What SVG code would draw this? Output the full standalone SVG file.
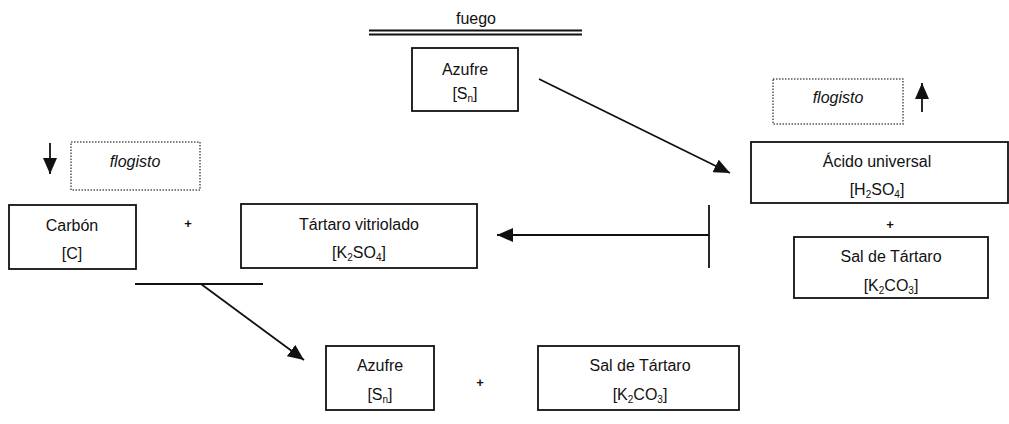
<svg xmlns="http://www.w3.org/2000/svg" width="1009" height="424" viewBox="0 0 1009 424">
<style>
  text { font-family: "Liberation Sans", Arial, sans-serif; font-size: 16px; fill: #111; text-anchor: middle; }
  .box { fill: #fff; stroke: #111; stroke-width: 1.8; }
  .dot { fill: #fff; stroke: #555; stroke-width: 1.5; stroke-dasharray: 1.5 1.5; }
  .it { font-style: italic; }
  .plus { font-size: 13px; font-weight: bold; }
  .sub { font-size: 10px; }
  .ln { stroke: #111; stroke-width: 1.8; fill: none; }
</style>
<defs>
  <marker id="ah" markerUnits="userSpaceOnUse" markerWidth="18" markerHeight="14" refX="16" refY="7" orient="auto">
    <path d="M0,0 L16,7 L0,14 Z" fill="#111"/>
  </marker>
</defs>
<rect width="1009" height="424" fill="#fff"/>

<g id="fuego">
  <text x="476" y="24" font-size="15">fuego</text>
  <line x1="369" y1="30.5" x2="582" y2="30.5" class="ln" stroke-width="1.6"/>
  <line x1="369" y1="34.5" x2="582" y2="34.5" class="ln" stroke-width="1.6"/>
</g>

<g id="azufre-top">
  <rect class="box" x="412" y="48" width="106" height="63"/>
  <text x="465" y="75">Azufre</text>
  <text x="465" y="99">[S<tspan class="sub" dy="3">n</tspan><tspan dy="-3">]</tspan></text>
</g>

<g id="flogisto-right">
  <rect class="dot" x="773" y="79" width="130" height="45"/>
  <text class="it" x="838" y="103">flogisto</text>
</g>

<g id="acido">
  <rect class="box" x="751" y="142" width="257" height="61"/>
  <text x="877" y="167">Ácido universal</text>
  <text x="877" y="195">[H<tspan class="sub" dy="3">2</tspan><tspan dy="-3">SO</tspan><tspan class="sub" dy="3">4</tspan><tspan dy="-3">]</tspan></text>
</g>

<g id="plus-right"><text class="plus" x="890" y="229">+</text></g>

<g id="sal-right">
  <rect class="box" x="794" y="237" width="194" height="61"/>
  <text x="891" y="262">Sal de Tártaro</text>
  <text x="891" y="291">[K<tspan class="sub" dy="3">2</tspan><tspan dy="-3">CO</tspan><tspan class="sub" dy="3">3</tspan><tspan dy="-3">]</tspan></text>
</g>

<g id="flogisto-left">
  <rect class="dot" x="71" y="142" width="129" height="48"/>
  <text class="it" x="135" y="167">flogisto</text>
</g>

<g id="carbon">
  <rect class="box" x="9" y="205" width="127" height="64"/>
  <text x="72" y="231">Carbón</text>
  <text x="72" y="259">[C]</text>
</g>

<g id="plus-left"><text class="plus" x="188" y="228">+</text></g>

<g id="tartaro">
  <rect class="box" x="241" y="204" width="236" height="64"/>
  <text x="359" y="230">Tártaro vitriolado</text>
  <text x="359" y="258">[K<tspan class="sub" dy="3">2</tspan><tspan dy="-3">SO</tspan><tspan class="sub" dy="3">4</tspan><tspan dy="-3">]</tspan></text>
</g>

<g id="azufre-bottom">
  <rect class="box" x="326" y="346" width="108" height="64"/>
  <text x="380" y="371">Azufre</text>
  <text x="380" y="400">[S<tspan class="sub" dy="3">n</tspan><tspan dy="-3">]</tspan></text>
</g>

<g id="plus-bottom"><text class="plus" x="480" y="387">+</text></g>

<g id="sal-bottom">
  <rect class="box" x="538" y="346" width="201" height="64"/>
  <text x="640" y="371">Sal de Tártaro</text>
  <text x="640" y="400">[K<tspan class="sub" dy="3">2</tspan><tspan dy="-3">CO</tspan><tspan class="sub" dy="3">3</tspan><tspan dy="-3">]</tspan></text>
</g>

<g id="connectors">
  <line class="ln" x1="539" y1="79" x2="730" y2="173" marker-end="url(#ah)"/>
  <line class="ln" x1="922" y1="112" x2="922" y2="83" marker-end="url(#ah)"/>
  <line class="ln" x1="50" y1="143" x2="50" y2="174" marker-end="url(#ah)"/>
  <line class="ln" x1="709" y1="205" x2="709" y2="268"/>
  <line class="ln" x1="709" y1="235" x2="497" y2="235" marker-end="url(#ah)"/>
  <line class="ln" x1="135" y1="284" x2="263" y2="284"/>
  <line class="ln" x1="201" y1="284" x2="304" y2="360" marker-end="url(#ah)"/>
</g>
</svg>
